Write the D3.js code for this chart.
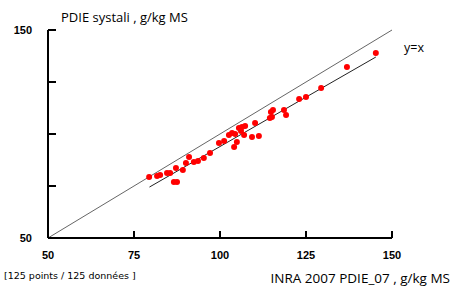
<!DOCTYPE html>
<html>
<head>
<meta charset="utf-8">
<script src="https://cdn.jsdelivr.net/npm/d3@7"></script>
<style>
  body { margin: 0; background: #fff; }
  svg { display: block; }
</style>
</head>
<body>
<svg id="chart" width="453" height="287"></svg>
<script>
// INRA 2007 PDIE_07 (x) vs PDIE systali (y), g/kg MS
const pdieInra = [79.4, 81.7, 82.6, 84.6, 85.5, 86.6, 87.5, 87.2, 89.2, 90.1, 91.0, 92.4, 93.6, 95.3, 97.1,
  99.7, 101.2, 102.6, 103.5, 104.4, 104.1, 104.9, 105.5, 106.4, 107.3, 106.1, 107.0, 109.3, 110.2, 111.3,
  114.8, 115.4, 115.1, 114.5, 118.6, 119.2, 123.0, 125.0, 129.4, 136.9, 145.3];
const pdieSystali = [79.3, 79.8, 80.3, 81.3, 81.3, 76.9, 76.9, 83.7, 82.7, 86.1, 88.9, 86.5, 87.0, 88.5, 90.9,
  95.7, 96.6, 99.5, 100.5, 100.0, 93.8, 96.2, 102.9, 103.4, 103.8, 101.4, 99.5, 98.6, 105.3, 99.0,
  110.6, 111.5, 108.2, 107.7, 111.5, 109.1, 116.8, 117.8, 122.1, 132.2, 138.9];
const regX = [79.5, 145.3];
const regY = [74.5, 137.0];
const identity = [50, 150];
const ticks = [50, 75, 100, 125, 150];

const svg = d3.select("#chart");
const x = d3.scaleLinear().domain([50, 150]).range([48, 392]);
const y = d3.scaleLinear().domain([50, 150]).range([238, 30]);

// y = x line
svg.append("line")
  .attr("x1", x(identity[0])).attr("y1", y(identity[0]))
  .attr("x2", x(identity[1])).attr("y2", y(identity[1]))
  .attr("stroke", "#666").attr("stroke-width", 1);

// regression line
svg.append("line")
  .attr("x1", x(regX[0])).attr("y1", y(regY[0]))
  .attr("x2", x(regX[1])).attr("y2", y(regY[1]))
  .attr("stroke", "#222").attr("stroke-width", 1);

// points
svg.append("g").selectAll("circle")
  .data(pdieInra.map((v, i) => [v, pdieSystali[i]]))
  .enter().append("circle")
  .attr("cx", d => x(d[0]))
  .attr("cy", d => y(d[1]))
  .attr("r", 3)
  .attr("fill", "#ff0000");

// axes with inward ticks
const inner = ticks.slice(1);
svg.append("path")
  .attr("d", `M${x(50)},${y(50)}H${x(150)}M${x(50)},${y(50)}V${y(150)}`)
  .attr("fill", "none").attr("stroke", "#000").attr("stroke-width", 2);
svg.append("g").selectAll("rect")
  .data(inner).enter().append("rect")
  .attr("x", d => Math.round(x(d)) - 1).attr("y", y(50) - 7)
  .attr("width", 2).attr("height", 7)
  .attr("fill", "#000");
svg.append("g").selectAll("rect")
  .data(inner).enter().append("rect")
  .attr("x", x(50)).attr("y", d => Math.round(y(d)) - 1)
  .attr("width", 8).attr("height", 2)
  .attr("fill", "#000");

// tick labels
svg.append("g").selectAll("text")
  .data(ticks).enter().append("text")
  .attr("x", d => x(d)).attr("y", 259)
  .attr("text-anchor", "middle")
  .attr("font-family", "Liberation Sans, Arial, sans-serif")
  .attr("font-size", 11).attr("font-weight", "bold")
  .text(d => d);
svg.append("g").selectAll("text")
  .data([50, 150]).enter().append("text")
  .attr("x", 32).attr("y", d => y(d) + 4)
  .attr("text-anchor", "end")
  .attr("font-family", "Liberation Sans, Arial, sans-serif")
  .attr("font-size", 11).attr("font-weight", "bold")
  .text(d => d);

// titles
svg.append("text").attr("x", 61).attr("y", 22)
  .attr("font-family", "Open Sans, sans-serif").attr("font-size", 13)
  .text("PDIE systali , g/kg MS");
svg.append("text").attr("x", 450).attr("y", 283)
  .attr("text-anchor", "end")
  .attr("font-family", "Open Sans, sans-serif").attr("font-size", 13.5)
  .text("INRA 2007 PDIE_07 , g/kg MS");
svg.append("text").attr("x", 404).attr("y", 52)
  .attr("font-family", "Open Sans, sans-serif").attr("font-size", 12.5)
  .text("y=x");
svg.append("text").attr("x", 4).attr("y", 279)
  .attr("font-family", "DejaVu Sans, sans-serif").attr("font-size", 9.5)
  .text("[125 points / 125 données ]");
</script>
</body>
</html>
